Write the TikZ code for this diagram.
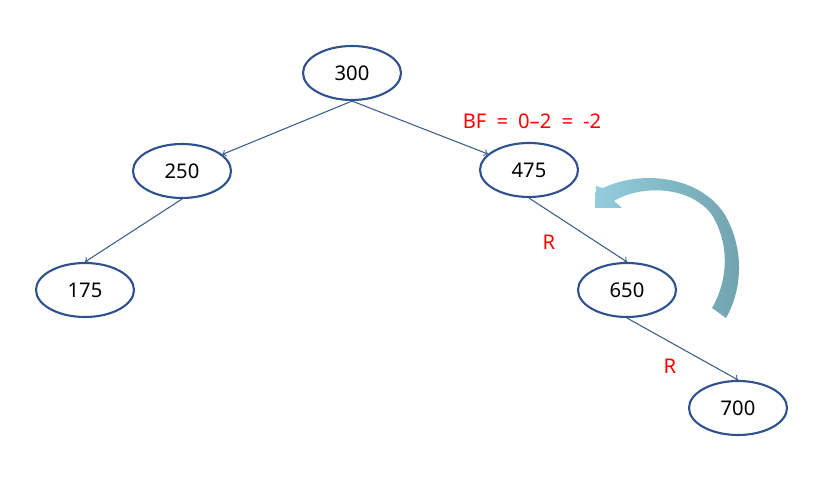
\documentclass[tikz,border=0pt]{standalone}
\usepackage{fontspec}
\setmainfont{Noto Sans}
\usetikzlibrary{shapes.geometric}
\definecolor{nodeline}{RGB}{47,82,143}
\definecolor{edgeline}{RGB}{56,93,138}
\definecolor{arclight}{RGB}{147,205,221}
\definecolor{arcdark}{RGB}{112,162,173}

\begin{document}
\begin{tikzpicture}[every node/.style={font=\fontsize{11.5}{14}\selectfont},
  key/.style={ellipse,draw=nodeline,line width=1.2pt,minimum width=1.96cm,minimum height=1.08cm,inner sep=0pt},
  link/.style={->,draw=edgeline,line width=0.6pt},
  note/.style={text=red}]
  \useasboundingbox (0,0) rectangle (16.38,10);
  \node[key] (k300) at (7.04,8.54) {300};
  \node[key] (k250) at (3.64,6.58) {250};
  \node[key] (k475) at (10.58,6.6) {475};
  \node[key] (k175) at (1.70,4.2) {175};
  \node[key] (k650) at (12.54,4.2) {650};
  \node[key] (k700) at (14.76,1.84) {700};
  \node[note] (bf) at (10.64,7.58) {BF\hspace{0.5em}=\hspace{0.5em}0--2\hspace{0.5em}=\hspace{0.5em}-2};
  \node[note] (r1) at (10.98,5.16) {R};
  \node[note] (r2) at (13.4,2.68) {R};
  \draw[link] (k300.south) -- (k250);
  \draw[link] (k300.south) -- (k475);
  \draw[link] (k250.south) -- (k175.north);
  \draw[link] (k475.south) -- (k650.north);
  \draw[link] (k650.south) -- (k700.north);
  % rotation arrow
  \shade[left color=arclight,right color=arcdark,shading angle=90]
    (12.06,6.24) .. controls (12.8,6.6) and (14.0,6.5) .. (14.5,5.7)
    .. controls (14.9,5.0) and (14.84,4.2) .. (14.52,3.64)
    -- (14.24,3.84)
    .. controls (14.56,4.4) and (14.6,5.1) .. (14.24,5.7)
    .. controls (13.8,6.3) and (12.8,6.3) .. (12.28,5.98)
    -- (12.44,5.84) -- (11.9,5.84) -- (11.92,6.28) -- cycle;
\end{tikzpicture}
\end{document}
